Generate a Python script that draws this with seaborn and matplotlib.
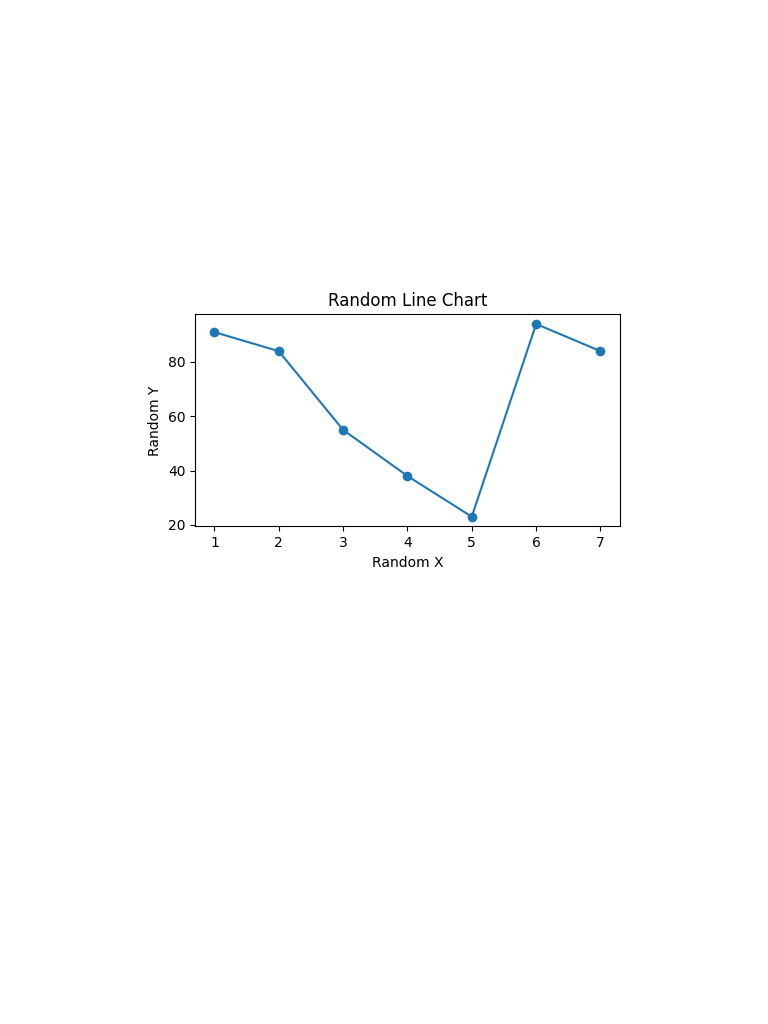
import matplotlib
matplotlib.use("Agg")
import pandas as pd
import seaborn as sns
from matplotlib import pyplot as plt

x_values = [1, 2, 3, 4, 5, 6, 7]
y_values = [91, 84, 55, 38, 23, 94, 84]

df = pd.DataFrame({"Random X": x_values, "Random Y": y_values})

fig = plt.figure(figsize=(7.68, 10.24), dpi=100)
ax = fig.add_axes([0.254, 0.486, 0.553, 0.207])
sns.lineplot(data=df, x="Random X", y="Random Y", marker="o",
             markeredgewidth=0, markersize=7, ax=ax)
ax.set_title("Random Line Chart")
ax.set_xlabel("Random X")
ax.set_ylabel("Random Y")

fig.savefig("out.png", dpi=100)
